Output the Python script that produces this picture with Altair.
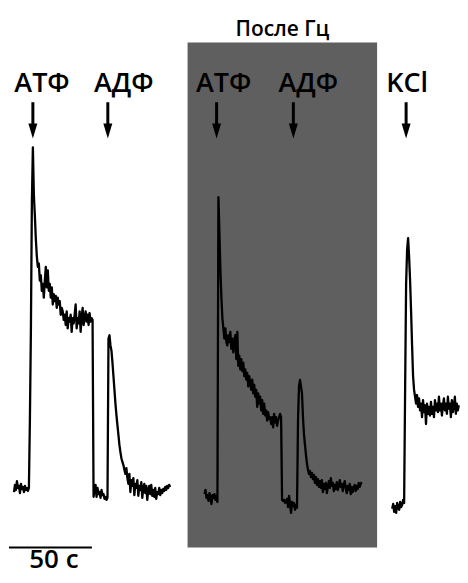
import altair as alt
import pandas as pd

# --- recorded traces (response, % of max ATP response), uniformly sampled ---
DT = 0.6  # s between samples

t0_control = 3.0
control = [-0.9, 1.2, -0.3, 2.3, 0.3, 0.9, -1.2, 1.5, 0.0, 0.6, -0.9, 0.9, -0.3, 0.3, -0.6, 0.3,
           20, 46, 84, 100,
           86, 80, 73, 68, 65, 66, 61, 62.5, 58, 60, 56, 61, 65, 59, 64, 58, 60, 56, 59, 54,
           57, 55, 56.5, 53, 56, 54, 55, 51, 53, 52, 49.5, 51, 48, 52, 47, 50, 49, 51, 46, 50,
           48.5, 51, 54, 47, 50, 48.5, 52, 46, 50, 53, 48, 50, 52, 49, 51, 48, 51.5, 49, 50, 49.5,
           -2.3, -0.3, 1.2, -2.3, 0.3, -1.5, -0.9, -2.6, -0.3, -1.8, -1.5, -2.9, -2.3, -3.2, -2.6,
           44, 45, 42, 40.5, 37, 33, 29, 25, 21.6, 18.7, 15.8, 12.9, 10.8, 9, 7.9, 7, 5.6, 4.4, 6.1, 3.2,
           1.5, 4.4, -0.9, 2.6, 0.9, 3.2, -1.8, 1.5, 0.3, 2.6, -2.0, 0.9, -0.3, 2.0, -2.6, 0.3, 1.5, -1.2, 0.9, -3.2,
           -0.3, 0.9, -1.5, 1.2, -2.0, -0.3, -2.3, 0.3, -2.9, -0.9, -1.5, 0.3, -1.8, -0.3, -1.2, 0.0, -0.6, 0.6, -0.3, 0.9,
           0.3, 1.2, 0.6]

t0_after = 117.9
after = [-1.5, -0.3, -2.6, -1.8, -3.5, -1.2, -2.3, -4.4, -1.8, -2.6, -1.5, -3.2, -2.0, -3.8,
         85.4, 75, 64, 56, 50, 47, 44, 47, 43, 42, 45, 43, 46, 41, 44, 40, 43.5, 45, 38, 46,
         36, 39, 35, 38, 34.5, 37, 33, 35, 32, 34, 30, 33, 31, 29, 32, 28, 30.5, 27, 29, 24,
         28, 25, 27, 23, 26, 22, 25, 21.5, 23, 20, 22.5, 20.5, 21, 19, 21, 18, 22, 19.5, 21, 18.5,
         20, 21, 22, 21,
         -3.2, -3.5, -3.2, -4.1, -3.5, -2.9, -5.3, -2.0, -4.4, -7.0, -3.8, -5.0, -4.1, -6.1, -4.7, -5.5,
         20, 30, 31.9, 30, 28, 21, 16, 13, 10, 7.5, 5.6, 4.4, 5.3, 3.5, 4.7, 2.9, 4.1, 1.8, 3.5, 1.2,
         2.9, 0.6, 2.3, 0.3, 2.6, -0.9, 1.5, 0.0, 1.8, -1.2, 0.6, 2.3, 0.3, 3.2, 0.9, 1.8, -0.6, 1.2, 0.0, 2.0,
         -0.3, 0.9, 2.6, 0.6, 1.5, -0.6, 1.2, 2.3, 0.3, -1.2, 0.9, -0.3, 1.5, -1.5, 0.6, -0.9, 0.3, 1.2, -0.6, 0.9,
         0.0, 1.8, 0.6, 1.5, 2.0]

t0_kcl = 231.1
kcl = [-5.8, -4.4, -6.7, -5.0, -7.0, -4.1, -5.5, -6.1, -3.8, -5.3, -4.7, -3.2, -4.1,
       29, 60, 70, 73.4, 68, 61, 52, 42, 33, 29, 27, 25, 27.5, 24, 26.5, 23, 25, 21, 26, 22.5,
       24.5, 19, 25, 22, 24, 21.5, 25.5, 22, 24, 21, 26, 23, 25, 22.5, 27, 23, 25, 21.5, 24.5, 26.5,
       23, 25, 22, 27, 23.5, 25, 21, 26, 22.5, 24, 27, 22, 25, 23, 24.5]

# --- annotations ---
stim_labels = ["АТФ", "АДФ", "АТФ", "АДФ", "KCl"]
label_t = [19.9, 69.2, 129.4, 180.5, 240.1]
arrow_t = [14.4, 59.6, 125.2, 171.5, 239.5]
LABEL_V = 116.1
ARROW_TOP, ARROW_BOT, HEAD_V = 113.2, 106.0, 104.8

box_t = [107.7, 222.0]
box_v = [-17.1, 130.7]
box_title = "После Гц"
title_t, title_v = 164.9, 132.7

scale_t = [0, 50]
scale_v = -17.1
scale_label = "50 с"
scale_label_t, scale_label_v = 27.1, -23.2

X_DOM = [0, 272]
Y_DOM = [-25, 140.6]
FONT = "Open Sans"

rows = []
for name, t0, vals in [("control", t0_control, control), ("after", t0_after, after), ("kcl", t0_kcl, kcl)]:
    for i, v in enumerate(vals):
        rows.append({"trace": name, "t": t0 + i * DT, "v": v})
traces = pd.DataFrame(rows)

xs = alt.Scale(domain=X_DOM, nice=False, zero=False)
ys = alt.Scale(domain=Y_DOM, nice=False, zero=False)

box = alt.Chart(pd.DataFrame({"t1": [box_t[0]], "t2": [box_t[1]], "v1": [box_v[0]], "v2": [box_v[1]]})).mark_rect(
    color="#5f5f5f"
).encode(
    x=alt.X("t1:Q", scale=xs, axis=None), x2="t2:Q",
    y=alt.Y("v1:Q", scale=ys, axis=None), y2="v2:Q",
)

lines = alt.Chart(traces).mark_line(color="black", strokeWidth=2.3, strokeJoin="round").encode(
    x=alt.X("t:Q", scale=xs, axis=None),
    y=alt.Y("v:Q", scale=ys, axis=None),
    detail="trace:N",
    order="t:Q",
)

ann = pd.DataFrame({"label": stim_labels, "lt": label_t, "at": arrow_t})
ann["lv"] = LABEL_V
ann["a1"] = ARROW_TOP
ann["a2"] = ARROW_BOT
ann["hv"] = HEAD_V

labels = alt.Chart(ann).mark_text(font=FONT, fontSize=27, fontWeight=600, color="black", baseline="alphabetic").encode(
    x=alt.X("lt:Q", scale=xs, axis=None), y=alt.Y("lv:Q", scale=ys, axis=None), text="label:N"
)
shafts = alt.Chart(ann).mark_rule(color="black", strokeWidth=3).encode(
    x=alt.X("at:Q", scale=xs, axis=None), y=alt.Y("a1:Q", scale=ys, axis=None), y2="a2:Q"
)
heads = alt.Chart(ann).mark_point(
    shape="M-0.6,-1L0.6,-1L0,1Z", size=225, filled=True, color="black", opacity=1, strokeWidth=0
).encode(
    x=alt.X("at:Q", scale=xs, axis=None), y=alt.Y("hv:Q", scale=ys, axis=None)
)

title = alt.Chart(pd.DataFrame({"t": [title_t], "v": [title_v], "s": [box_title]})).mark_text(
    font=FONT, fontSize=21, fontWeight=600, color="black", baseline="alphabetic"
).encode(x=alt.X("t:Q", scale=xs, axis=None), y=alt.Y("v:Q", scale=ys, axis=None), text="s:N")

scalebar = alt.Chart(pd.DataFrame({"t1": [scale_t[0]], "t2": [scale_t[1]], "v": [scale_v]})).mark_rule(
    color="black", strokeWidth=2
).encode(x=alt.X("t1:Q", scale=xs, axis=None), x2="t2:Q", y=alt.Y("v:Q", scale=ys, axis=None))

scaletext = alt.Chart(pd.DataFrame({"t": [scale_label_t], "v": [scale_label_v], "s": [scale_label]})).mark_text(
    font=FONT, fontSize=26, fontWeight=600, color="black", baseline="alphabetic"
).encode(x=alt.X("t:Q", scale=xs, axis=None), y=alt.Y("v:Q", scale=ys, axis=None), text="s:N")

chart = alt.layer(box, lines, shafts, heads, labels, title, scalebar, scaletext).properties(
    width=452, height=567, padding=0, background="white"
).configure_view(stroke=None)

chart.save("out.html", embed_options={"renderer": "svg", "actions": False})
